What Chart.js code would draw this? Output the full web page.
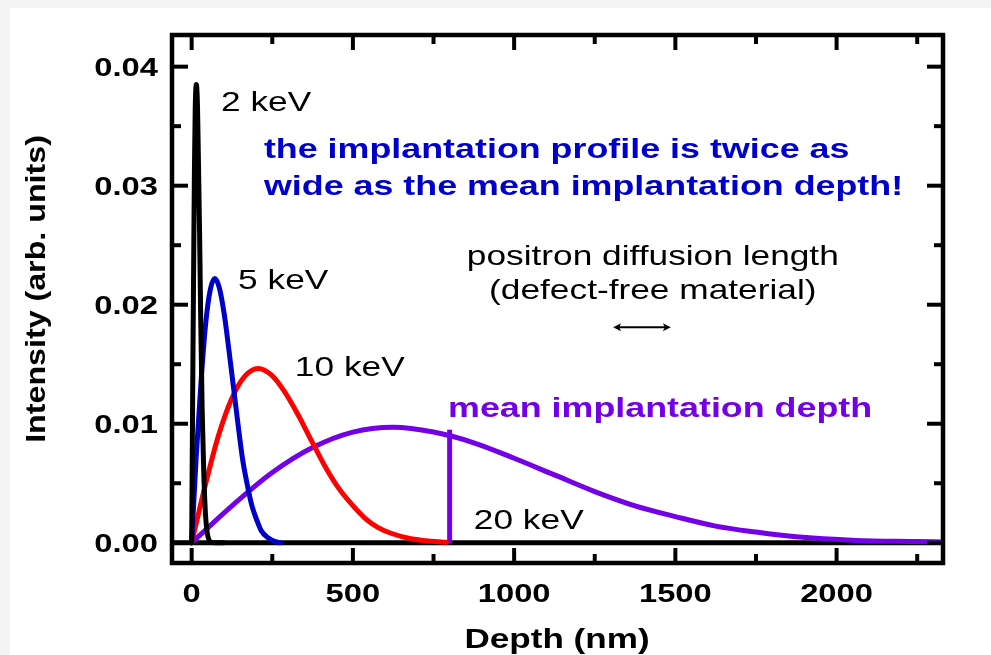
<!DOCTYPE html>
<html>
<head>
<meta charset="utf-8">
<script src="https://cdn.jsdelivr.net/npm/chart.js@4.4.1/dist/chart.umd.min.js"></script>
<style>
  html, body { margin: 0; padding: 0; background: #f4f4f4; }
  #paper { position: absolute; left: 10px; top: 8px; width: 981px; height: 647px; background: #ffffff; }
  #profileChart { position: absolute; left: 0; top: 0; }
</style>
</head>
<body>
<div id="paper"></div>
<canvas id="profileChart" width="991" height="655"></canvas>
<script>
// Makhov implantation profiles, depth in nm, intensity in arb. units
const depth2 = [0, 3, 6, 8.5, 11, 14.5, 18, 20.5, 24.5, 28, 32.5, 37.5, 43, 48.5, 56, 70, 100];
const int2   = [0, 0.0121, 0.0228, 0.0312, 0.0364, 0.0385, 0.0367, 0.0329, 0.0261, 0.0189, 0.0112, 0.0059, 0.0023, 0.0008, 0.00014, 0, 0];

const depth5 = [0, 14, 29, 43, 58, 72, 86, 101, 115, 130, 144, 158, 173, 187, 202, 216, 238, 259, 275];
const int5   = [0, 0.0072, 0.0135, 0.0183, 0.0213, 0.0222, 0.0214, 0.0192, 0.0163, 0.0130, 0.0099, 0.0070, 0.0048, 0.0031, 0.0019, 0.0010, 0.0004, 0.0001, 0];

const depth10 = [0, 41, 82, 124, 165, 206, 247, 288, 330, 371, 412, 453, 494, 536, 577, 618, 680, 742, 790];
const int10   = [0, 0.0047, 0.0089, 0.0121, 0.0140, 0.01465, 0.0141, 0.0127, 0.01075, 0.0086, 0.0065, 0.0047, 0.0033, 0.0021, 0.0013, 0.0008, 0.00034, 0.00013, 0.00004];

const depth20 = [0, 125, 250, 375, 500, 625, 750, 875, 1000, 1125, 1250, 1375, 1500, 1625, 1750, 1875, 2060, 2250, 2330];
const int20   = [0, 0.0031, 0.0059, 0.0080, 0.0093, 0.0097, 0.0093, 0.0084, 0.0071, 0.0057, 0.0043, 0.0031, 0.0022, 0.0014, 0.0009, 0.0005, 0.0002, 0.0001, 0.00006];

// zero line and the mean implantation depth marker of the 20 keV profile
const baseDepth = [-61, 2330];
const baseInt   = [0, 0];
const meanDepth = [800, 800];
const meanInt   = [0, 0.0095];

// positron diffusion length arrow (nm) and its height
const diffDepth = [1307, 1486];
const diffInt   = 0.0181;

// axis ticks
const xMajor = [0, 500, 1000, 1500, 2000];
const xMinor = [250, 750, 1250, 1750, 2250];
const yMajor = [0, 0.01, 0.02, 0.03, 0.04];
const yMinor = [0.005, 0.015, 0.025, 0.035];

const X_MIN = -61, X_MAX = 2330;
const Y_MIN = -0.0017, Y_MAX = 0.04266;

const BLUE = '#0000c8';
const VIOLET = '#7300e6';

function points(xs, ys) {
  return xs.map((x, i) => ({ x: x, y: ys[i] }));
}

// text with a horizontal stretch
function wideText(ctx, text, x, y, font, color, align, sx) {
  ctx.save();
  ctx.font = font;
  ctx.fillStyle = color;
  ctx.textAlign = align;
  ctx.textBaseline = 'alphabetic';
  ctx.translate(x, y);
  ctx.scale(sx, 1);
  ctx.fillText(text, 0, 0);
  ctx.restore();
}

const NORMAL = '28px "Liberation Sans", Arial, sans-serif';
const BOLD = 'bold 28px "Liberation Sans", Arial, sans-serif';

const notes = [
  { text: '2 keV', x: 91, y: 0.03624, font: NORMAL, color: '#000', align: 'left', sx: 1.26 },
  { text: '5 keV', x: 144, y: 0.02132, font: NORMAL, color: '#000', align: 'left', sx: 1.26 },
  { text: '10 keV', x: 320, y: 0.01405, font: NORMAL, color: '#000', align: 'left', sx: 1.26 },
  { text: '20 keV', x: 875, y: 0.00119, font: NORMAL, color: '#000', align: 'left', sx: 1.26 },
  { text: 'the implantation profile is twice as', x: 224, y: 0.03229, font: BOLD, color: '#0000cc', align: 'left', sx: 1.28 },
  { text: 'wide as the mean implantation depth!', x: 224, y: 0.02918, font: BOLD, color: '#0000cc', align: 'left', sx: 1.28 },
  { text: 'positron diffusion length', x: 1430, y: 0.02334, font: NORMAL, color: '#000', align: 'center', sx: 1.26 },
  { text: '(defect-free material)', x: 1430, y: 0.02052, font: NORMAL, color: '#000', align: 'center', sx: 1.26 },
  { text: 'mean implantation depth', x: 795, y: 0.01056, font: BOLD, color: VIOLET, align: 'left', sx: 1.28 }
];

const framePlugin = {
  id: 'framePlugin',
  afterDatasetsDraw(chart) {
    const ctx = chart.ctx;
    const { left, right, top, bottom } = chart.chartArea;
    const xs = chart.scales.x;
    const ys = chart.scales.y;

    ctx.save();
    ctx.strokeStyle = '#000';
    ctx.lineWidth = 4;
    ctx.lineCap = 'butt';

    // inward ticks on all four sides
    const tick = (x1, y1, x2, y2) => {
      ctx.beginPath();
      ctx.moveTo(x1, y1);
      ctx.lineTo(x2, y2);
      ctx.stroke();
    };
    xMajor.forEach(v => {
      const px = xs.getPixelForValue(v);
      tick(px, bottom, px, bottom - 15);
      tick(px, top, px, top + 15);
    });
    xMinor.forEach(v => {
      const px = xs.getPixelForValue(v);
      tick(px, bottom, px, bottom - 9);
      tick(px, top, px, top + 9);
    });
    yMajor.forEach(v => {
      const py = ys.getPixelForValue(v);
      tick(left, py, left + 16, py);
      tick(right, py, right - 16, py);
    });
    yMinor.forEach(v => {
      const py = ys.getPixelForValue(v);
      tick(left, py, left + 9, py);
      tick(right, py, right - 9, py);
    });

    ctx.lineWidth = 4.5;
    ctx.strokeRect(left, top, right - left, bottom - top);
    ctx.restore();

    // tick labels
    const tickFont = 'bold 26px "Liberation Sans", Arial, sans-serif';
    yMajor.forEach(v => {
      wideText(ctx, v.toFixed(2), left - 14, ys.getPixelForValue(v) + 9.5, tickFont, '#000', 'right', 1.26);
    });
    xMajor.forEach(v => {
      wideText(ctx, String(v), xs.getPixelForValue(v), bottom + 38.5, tickFont, '#000', 'center', 1.26);
    });

    // axis titles
    wideText(ctx, 'Depth (nm)', (left + right) / 2 - 0.5, bottom + 85, 'bold 27px "Liberation Sans", Arial, sans-serif', '#000', 'center', 1.3);
    ctx.save();
    ctx.translate(45, 289);
    ctx.rotate(-Math.PI / 2);
    wideText(ctx, 'Intensity (arb. units)', 0, 0, 'bold 28px "Liberation Sans", Arial, sans-serif', '#000', 'center', 1.15);
    ctx.restore();

    // annotations
    notes.forEach(n => {
      wideText(ctx, n.text, xs.getPixelForValue(n.x), ys.getPixelForValue(n.y), n.font, n.color, n.align, n.sx);
    });

    // diffusion length double arrow
    const ax1 = xs.getPixelForValue(diffDepth[0]);
    const ax2 = xs.getPixelForValue(diffDepth[1]);
    const ay = ys.getPixelForValue(diffInt);
    ctx.save();
    ctx.strokeStyle = '#000';
    ctx.fillStyle = '#000';
    ctx.lineWidth = 2;
    ctx.beginPath();
    ctx.moveTo(ax1 + 3, ay);
    ctx.lineTo(ax2 - 3, ay);
    ctx.stroke();
    [[ax1, 1], [ax2, -1]].forEach(([x, d]) => {
      ctx.beginPath();
      ctx.moveTo(x, ay);
      ctx.lineTo(x + d * 8, ay - 4);
      ctx.lineTo(x + d * 6, ay);
      ctx.lineTo(x + d * 8, ay + 4);
      ctx.closePath();
      ctx.fill();
    });
    ctx.restore();
  }
};

const curve = (label, data, color, order) => ({
  label: label,
  data: data,
  borderColor: color,
  borderWidth: 5,
  pointRadius: 0,
  fill: false,
  cubicInterpolationMode: 'monotone',
  borderJoinStyle: 'round',
  borderCapStyle: 'round',
  order: order
});

const ctx = document.getElementById('profileChart').getContext('2d');
new Chart(ctx, {
  type: 'line',
  data: {
    datasets: [
      curve('2 keV', points(depth2, int2), '#000000', 0),
      curve('5 keV', points(depth5, int5), BLUE, 1),
      curve('10 keV', points(depth10, int10), '#ff0000', 2),
      curve('20 keV', points(depth20, int20), VIOLET, 3),
      Object.assign(curve('mean depth', points(meanDepth, meanInt), VIOLET, 3), { cubicInterpolationMode: 'default', tension: 0, borderCapStyle: 'butt' }),
      Object.assign(curve('zero', points(baseDepth, baseInt), '#000000', 5), { cubicInterpolationMode: 'default', tension: 0 })
    ]
  },
  options: {
    responsive: false,
    animation: false,
    layout: { padding: { left: 172, top: 35, right: 48, bottom: 92 } },
    plugins: {
      legend: { display: false },
      tooltip: { enabled: false }
    },
    scales: {
      x: { type: 'linear', min: X_MIN, max: X_MAX, display: false },
      y: { type: 'linear', min: Y_MIN, max: Y_MAX, display: false }
    }
  },
  plugins: [framePlugin]
});
</script>
</body>
</html>
